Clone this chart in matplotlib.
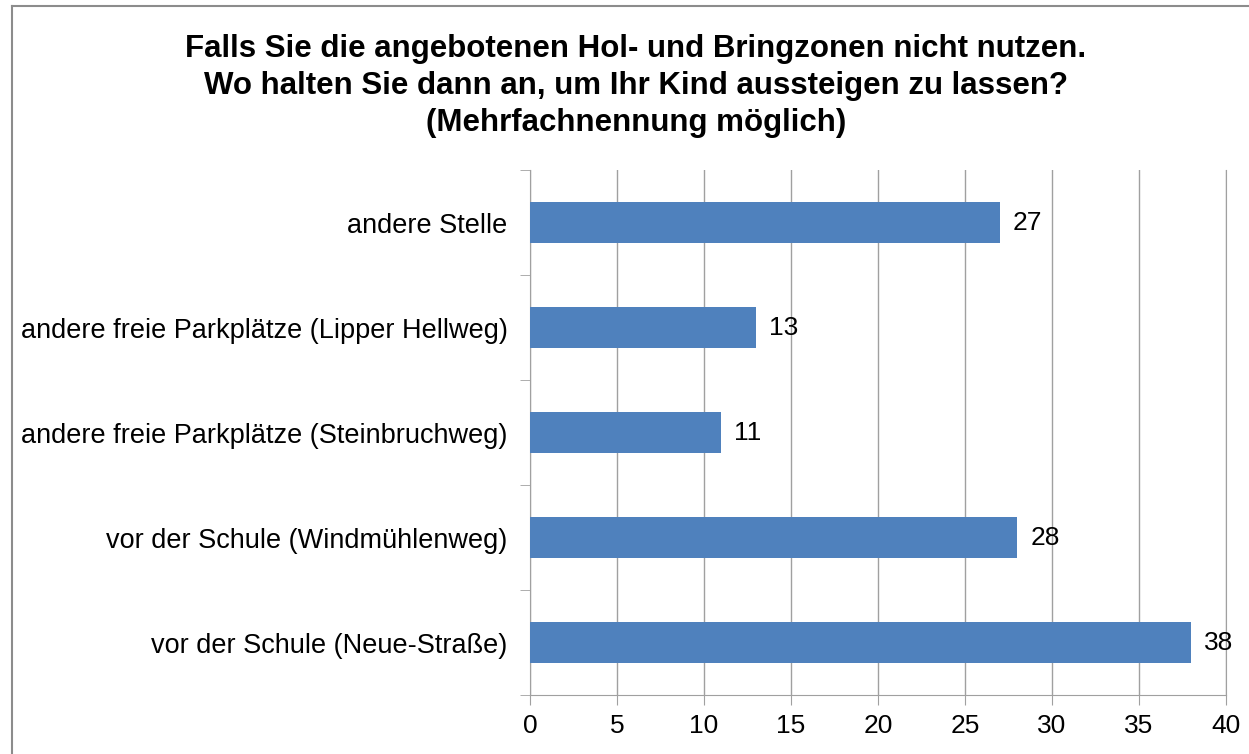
import matplotlib.pyplot as plt
from matplotlib.lines import Line2D

plt.rcParams['font.family'] = ['Liberation Sans', 'DejaVu Sans']

title = ("Falls Sie die angebotenen Hol- und Bringzonen nicht nutzen.\n"
         "Wo halten Sie dann an, um Ihr Kind aussteigen zu lassen?\n"
         "(Mehrfachnennung möglich)")

categories = [
    "vor der Schule (Neue-Straße)",
    "vor der Schule (Windmühlenweg)",
    "andere freie Parkplätze (Steinbruchweg)",
    "andere freie Parkplätze (Lipper Hellweg)",
    "andere Stelle",
]
values = [38, 28, 11, 13, 27]
x_ticks = [0, 5, 10, 15, 20, 25, 30, 35, 40]

bar_color = "#4f81bd"
grid_color = "#a0a0a0"

fig = plt.figure(figsize=(12.49, 7.54), dpi=100)
ax = fig.add_axes([0.4243, 0.0782, 0.5573, 0.6963])

pos = list(range(len(categories)))
ax.barh(pos, values, height=0.39, color=bar_color, zorder=3)

for p, v in zip(pos, values):
    ax.text(v + 0.75, p, str(v), va="center", ha="left", fontsize=19, zorder=4)

ax.set_xlim(0, 40)
ax.set_ylim(-0.5, len(categories) - 0.5)
ax.set_xticks(x_ticks)
ax.set_xticklabels([str(t) for t in x_ticks], fontsize=19)
ax.set_yticks(pos)
ax.set_yticklabels(categories, fontsize=19.5)

# category boundary ticks like Excel
ax.set_yticks([p - 0.5 for p in pos] + [len(categories) - 0.5], minor=True)
ax.tick_params(axis="y", which="major", length=0, pad=16)
ax.tick_params(axis="y", which="minor", length=7, color=grid_color)
ax.tick_params(axis="x", length=7, color=grid_color, pad=7)

ax.grid(axis="x", color=grid_color, linewidth=1, zorder=0)
ax.spines["top"].set_visible(False)
for side in ["left", "bottom", "right"]:
    ax.spines[side].set_color(grid_color)

fig.text(0.509, 0.955, title, ha="center", va="top", fontsize=22.5,
         fontweight="bold", linespacing=1.3)

# outer chart frame
fig.add_artist(Line2D([0.0098, 0.0098], [0, 0.992], transform=fig.transFigure,
                      color="#8c8c8c", linewidth=1.5))
fig.add_artist(Line2D([0.0098, 1], [0.992, 0.992], transform=fig.transFigure,
                      color="#8c8c8c", linewidth=1.5))

fig.savefig("out.png", dpi=100)
